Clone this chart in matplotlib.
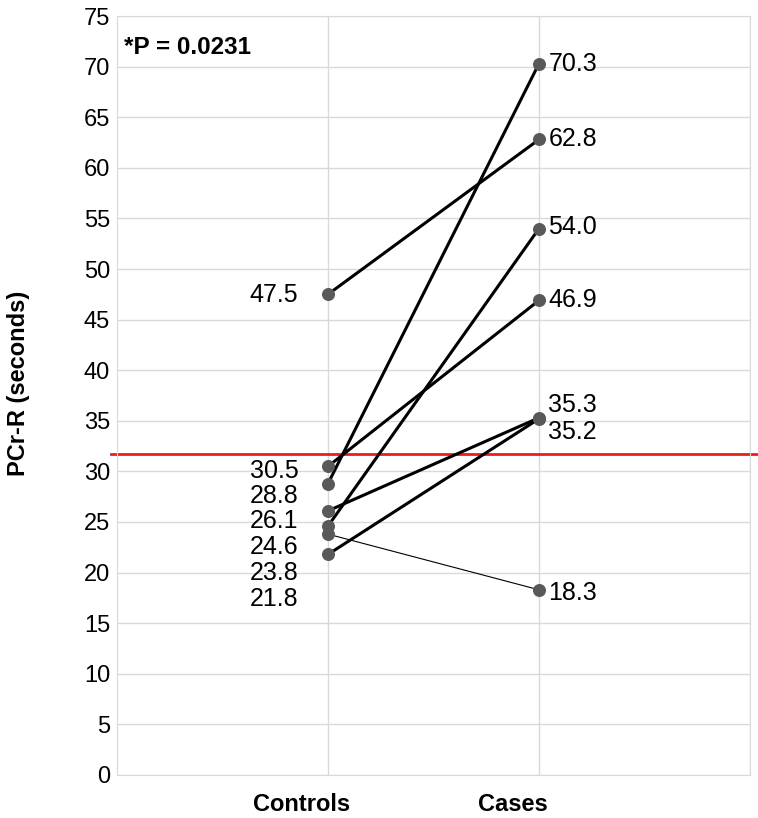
import matplotlib.pyplot as plt

# valores
controles = [47.5, 30.5, 28.8, 26.1, 24.6, 23.8, 21.8]
casos     = [62.8, 46.9, 70.3, 35.3, 54.0, 18.3, 35.2]
espessura = [2.2, 2.2, 2.2, 2.2, 2.2, 0.8, 2.2]

# posicao dos rotulos (empilhados, como no original)
rot_controles_y = [47.4, 30.07, 27.6, 25.13, 22.56, 19.99, 17.36]
rot_casos_y     = [62.8, 46.9, 70.3, 36.6, 54.2, 18.0, 33.9]

corte = 31.7
categorias = ["Controls", "Cases"]
yticks = list(range(0, 80, 5))

plt.rcParams['font.family'] = ['Liberation Sans', 'DejaVu Sans']

fig = plt.figure(figsize=(7.58, 8.18), dpi=100)
ax = fig.add_axes([0.1544, 0.0526, 0.9894 - 0.1544, 0.9804 - 0.0526])

for c, k, lw in zip(controles, casos, espessura):
    ax.plot([1, 2], [c, k], color="black", lw=lw, zorder=3, solid_capstyle="round")
ax.scatter([1] * len(controles), controles, s=70, color="#595959", zorder=4)
ax.scatter([2] * len(casos), casos, s=70, color="#595959", zorder=4)

for c, yy in zip(controles, rot_controles_y):
    ax.text(0.86, yy, f"{c:.1f}", ha="right", va="center", fontsize=18)
for k, yy in zip(casos, rot_casos_y):
    ax.text(2.045, yy, f"{k:.1f}", ha="left", va="center", fontsize=18)

# linha de corte
ax.plot([-0.03, 3.05], [corte, corte], color="#ec1c1c", lw=2, zorder=2, clip_on=False)

ax.text(0.035, 71.9, "*P = 0.0231", fontsize=17.5, fontweight="bold", va="center")

ax.set_xlim(0, 3)
ax.set_ylim(0, 75)
ax.set_yticks(yticks)
ax.set_xticks([1, 2, 3])
ax.set_xticklabels(["", "", ""])
ax.set_xticks([0.875, 1.875], categorias, minor=True)
ax.tick_params(axis="x", which="both", length=0)
ax.tick_params(axis="x", which="minor", pad=13)
ax.tick_params(axis="y", length=0, pad=5, labelsize=17)
for t in ax.get_xticklabels(minor=True):
    t.set_fontweight("bold")
    t.set_fontsize(17)

ax.grid(True, which="major", color="#d9d9d9", lw=1)
ax.set_axisbelow(True)
for s in ax.spines.values():
    s.set_color("#d9d9d9")

ax.set_ylabel("PCr-R (seconds)", fontsize=17, fontweight="bold", va="center")
ax.yaxis.set_label_coords(-0.156, 0.516)

fig.savefig("out.png", dpi=100)
